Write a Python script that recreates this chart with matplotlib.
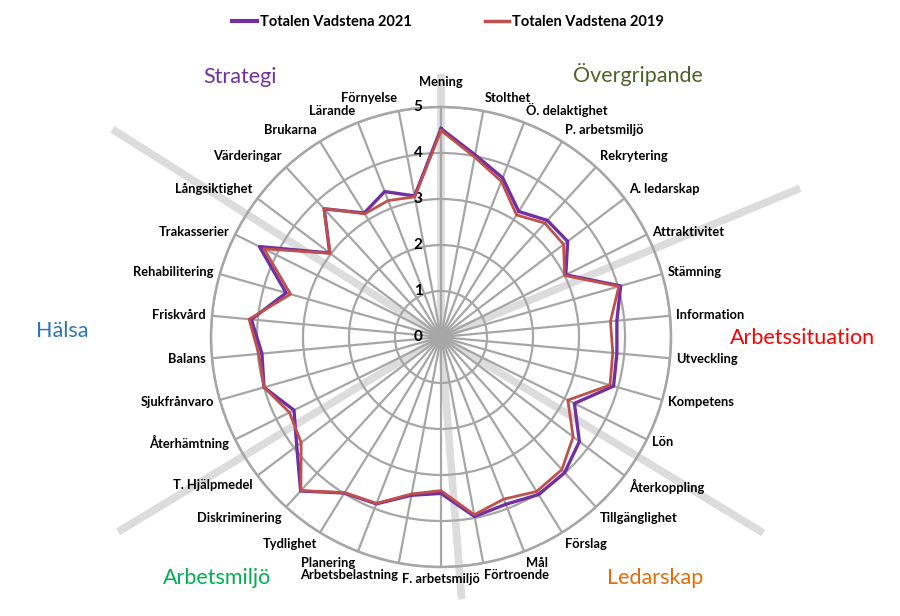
import numpy as np
import matplotlib
matplotlib.use("Agg")
import matplotlib.pyplot as plt
from matplotlib.lines import Line2D

plt.rcParams['font.family'] = ['Lato', 'DejaVu Sans']

categories = ['Mening', 'Stolthet', 'Ö. delaktighet', 'P. arbetsmiljö', 'Rekrytering',
              'A. ledarskap', 'Attraktivitet', 'Stämning', 'Information', 'Utveckling',
              'Kompetens', 'Lön', 'Återkoppling', 'Tillgänglighet', 'Förslag', 'Mål',
              'Förtroende', 'F. arbetsmiljö', 'Arbetsbelastning', 'Planering', 'Tydlighet',
              'Diskriminering', 'T. Hjälpmedel', 'Återhämtning', 'Sjukfrånvaro', 'Balans',
              'Friskvård', 'Rehabilitering', 'Trakasserier', 'Långsiktighet', 'Värderingar',
              'Brukarna', 'Lärande', 'Förnyelse']

vadstena_2021 = [4.53, 4.03, 3.71, 3.21, 3.43, 3.45, 3.03, 4.06, 3.84, 3.84,
                 3.90, 3.24, 3.77, 3.99, 4.03, 3.90, 3.97, 3.40, 3.50, 3.89,
                 3.99, 4.53, 3.93, 3.57, 4.00, 3.91, 4.14, 3.50, 4.41, 3.03,
                 3.77, 3.17, 3.39, 3.12]
vadstena_2019 = [4.49, 3.98, 3.63, 3.12, 3.35, 3.34, 3.00, 4.02, 3.70, 3.75,
                 3.82, 3.08, 3.60, 3.90, 3.95, 3.78, 3.93, 3.34, 3.47, 3.88,
                 3.98, 4.52, 3.81, 3.68, 4.00, 3.98, 4.19, 3.40, 4.30, 3.02,
                 3.78, 3.15, 3.18, 3.10]

r_ticks = [0, 1, 2, 3, 4, 5]

# section names, colours, label position (fig px) and dividers (degrees, length)
sections = ['Strategi', 'Övergripande', 'Arbetssituation', 'Ledarskap', 'Arbetsmiljö', 'Hälsa']
section_colors = ['#7030a0', '#4f6228', '#ff0000', '#e46c0a', '#00b050', '#2e75b6']
section_pos = [(240, 77), (638, 75), (803, 338), (655, 578), (217, 578), (62, 331)]
divider_deg = [0, 67.5, 121.3, 175.5, 238.9, 302.3]
divider_len = [5.72, 8.45, 8.2, 5.72, 8.2, 8.45]

W, H = 900, 616
fig = plt.figure(figsize=(9, 6.16), dpi=100)
cx, cy, rad = 441, 337, 230
ax = fig.add_axes([(cx - rad) / W, (H - cy - rad) / H, 2 * rad / W, 2 * rad / H], projection='polar')
ax.set_theta_zero_location('N')
ax.set_theta_direction(-1)

n = len(categories)
angles = np.arange(n) * 2 * np.pi / n
grid_col = '#a6a6a6'

ax.set_ylim(0, 5)
ax.set_yticks(r_ticks[1:])
ax.set_yticklabels([])
ax.set_xticks(angles)
ax.set_xticklabels([])
ax.grid(True, color=grid_col, linewidth=1.6)
ax.spines['polar'].set_color(grid_col)
ax.spines['polar'].set_linewidth(1.8)
ax.set_axisbelow(True)

for d, L in zip(divider_deg, divider_len):
    t = np.deg2rad(d)
    ax.plot([t, t], [0, L], color='#dcdcdc', linewidth=5.5, solid_capstyle='butt',
            zorder=0.2, clip_on=False)

closed = np.append(angles, angles[0])
ax.plot(closed, vadstena_2021 + vadstena_2021[:1], color='#7030a0', linewidth=2.4, zorder=3)
ax.plot(closed, vadstena_2019 + vadstena_2019[:1], color='#c0504d', linewidth=2.0, zorder=4)

for r in r_ticks:
    ax.annotate(str(r), xy=(0, r), xytext=(-16.5, 0), textcoords='offset points',
                ha='center', va='center', fontsize=11, fontweight='bold', annotation_clip=False)

for a, name in zip(angles, categories):
    s, c = np.sin(a), np.cos(a)
    ha = 'center' if abs(s) < 0.05 else ('left' if s > 0 else 'right')
    va = 'bottom' if c > 0.5 else ('top' if c < -0.5 else 'center')
    g = 4.5 + 9 * max(c, 0) ** 200
    ax.annotate(name, xy=(a, 5), xytext=(g * s, g * c), textcoords='offset points',
                ha=ha, va=va, fontsize=9.3, fontweight='bold', annotation_clip=False)

for name, col, (px, py) in zip(sections, section_colors, section_pos):
    fig.text(px / W, 1 - py / H, name, color=col, fontsize=15.5, ha='center', va='center')

handles = [Line2D([], [], color='#7030a0', linewidth=3),
           Line2D([], [], color='#c0504d', linewidth=2.5)]
fig.legend(handles, ['Totalen Vadstena 2021', 'Totalen Vadstena 2019'], loc='center',
           bbox_to_anchor=(0.498, 1 - 22 / H), ncol=2, frameon=False, handlelength=1.7,
           handletextpad=0.2, columnspacing=5.0, prop={'weight': 'bold', 'size': 10.5})

fig.savefig('out.png', dpi=100, facecolor='white')
